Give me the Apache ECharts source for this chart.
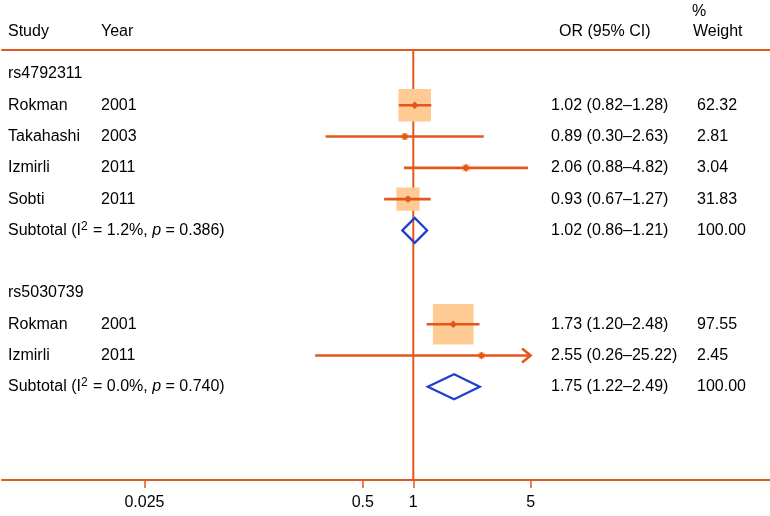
<!DOCTYPE html>
<html><head><meta charset="utf-8">
<script src="https://cdn.jsdelivr.net/npm/echarts@6/dist/echarts.min.js"></script>
<style>html,body{margin:0;padding:0;background:#fff}#c{width:770px;height:516px}</style>
</head><body><div id="c"></div>
<script>
// ---- data ----
const studies = ['rs4792311','Rokman','Takahashi','Izmirli','Sobti','Subtotal','','rs5030739','Rokman','Izmirli','Subtotal'];
const years = ['','2001','2003','2011','2011','','','','2001','2011',''];
const rowKind = ['group','study','study','study','study','subtotal','blank','group','study','study','subtotal'];
const i2Values = [null,null,null,null,null,'1.2%',null,null,null,null,'0.0%'];
const pValues = [null,null,null,null,null,'0.386',null,null,null,null,'0.740'];
const orValues = [null,1.02,0.89,2.06,0.93,1.02,null,null,1.73,2.55,1.75];
const ciLower = [null,0.82,0.30,0.88,0.67,0.86,null,null,1.20,0.26,1.22];
const ciUpper = [null,1.28,2.63,4.82,1.27,1.21,null,null,2.48,25.22,2.49];
const weights = [null,62.32,2.81,3.04,31.83,100.00,null,null,97.55,2.45,100.00];
const tickValues = [0.025,0.5,1,5];
const headers = ['Study','Year','OR (95% CI)','%','Weight'];

// ---- styling ----
const ORANGE = '#E2571C';
const PEACH = '#FECB94';
const BLUE = '#1E3FCC';
const FONT = '"Liberation Sans", Arial, Helvetica, sans-serif';
const FS = 16;
const clipMax = 5;
const colX = {study: 8, year: 101, ci: 551, weight: 697};

const chart = echarts.init(document.getElementById('c'), null, {renderer: 'canvas'});

function txt(x, y, s) {
  return {type: 'text', style: {x: x, y: y, text: s, fill: '#000', fontSize: FS, fontFamily: FONT,
    verticalAlign: 'middle', align: 'left'}};
}

function renderRow(params, api) {
  const i = params.dataIndex;
  const kind = rowKind[i];
  const y = api.coord([1, i])[1];
  const children = [];
  if (kind === 'blank') return {type: 'group', children: []};
  if (kind === 'subtotal') {
    children.push({type: 'text', style: {
      x: colX.study, y: y, verticalAlign: 'middle', align: 'left',
      text: '{n|Subtotal (I}{s|2}{n| = ' + i2Values[i] + ', }{i|p}{n| = ' + pValues[i] + ')}',
      rich: {
        n: {fontSize: FS, fontFamily: FONT, fill: '#000', lineHeight: 20},
        s: {fontSize: 12, fontFamily: FONT, fill: '#000', verticalAlign: 'top', lineHeight: 20, padding: [0, 1, 7, 0]},
        i: {fontSize: FS, fontFamily: FONT, fill: '#000', fontStyle: 'italic', lineHeight: 20}
      }
    }});
  } else {
    children.push(txt(colX.study, y, studies[i]));
    if (years[i]) children.push(txt(colX.year, y, years[i]));
  }
  if (kind === 'group') return {type: 'group', children: children};

  const orv = orValues[i], lo = ciLower[i], hi = ciUpper[i];
  const xOr = api.coord([orv, i])[0];
  const xLo = api.coord([lo, i])[0];
  const xHi = api.coord([Math.min(hi, clipMax), i])[0];
  children.push(txt(colX.ci, y, orv.toFixed(2) + ' (' + lo.toFixed(2) + '\u2013' + hi.toFixed(2) + ')'));
  children.push(txt(colX.weight, y, weights[i].toFixed(2)));

  if (kind === 'study') {
    const side = 4.12 * Math.sqrt(weights[i]);
    children.push({type: 'rect', shape: {x: xOr - side / 2, y: y - side / 2, width: side, height: side},
      style: {fill: PEACH}});
    children.push({type: 'line', shape: {x1: xLo, y1: y, x2: xHi, y2: y},
      style: {stroke: ORANGE, lineWidth: 2.6}});
    if (hi > clipMax) {
      children.push({type: 'polyline', shape: {points: [[xHi - 8.5, y - 7], [xHi, y], [xHi - 8.5, y + 7]]},
        style: {stroke: ORANGE, lineWidth: 2.6, fill: null}});
    }
    const d = 3.8;
    children.push({type: 'polygon', shape: {points: [[xOr - d, y], [xOr, y - d], [xOr + d, y], [xOr, y + d]]},
      style: {fill: ORANGE}});
  } else {
    const h = 12.5;
    children.push({type: 'polygon', shape: {points: [[xLo, y], [xOr, y - h], [xHi, y], [xOr, y + h]]},
      style: {fill: 'rgba(255,255,255,0)', stroke: BLUE, lineWidth: 2.2}});
  }
  return {type: 'group', children: children};
}

const rowData = studies.map((s, i) => [orValues[i] || 1, i]);
const yMin = -0.7673, yMax = 12.98;
const xMin = 0.003539, xMax = 133.6;

function headerText(x, y, s) {
  return {type: 'text', x: x, y: y, style: {text: s, fill: '#000', fontSize: FS, fontFamily: FONT,
    verticalAlign: 'middle', align: 'left'}};
}

const option = {
  animation: false,
  backgroundColor: '#fff',
  grid: {left: 2, right: 0, top: 50, bottom: 36, containLabel: false},
  xAxis: [{
    type: 'log', min: xMin, max: xMax, position: 'bottom',
    axisLine: {show: true, onZero: false, lineStyle: {color: ORANGE, width: 2}},
    axisTick: {show: true, customValues: tickValues, length: 8, lineStyle: {color: ORANGE, width: 1.5}},
    axisLabel: {show: true, customValues: tickValues, color: '#000', fontSize: FS, fontFamily: FONT, margin: 15,
      formatter: v => String(v)},
    splitLine: {show: false}, minorTick: {show: false}
  }, {
    type: 'log', min: xMin, max: xMax, position: 'top',
    axisLine: {show: true, onZero: false, lineStyle: {color: ORANGE, width: 2}},
    axisTick: {show: false}, axisLabel: {show: false}, splitLine: {show: false}
  }],
  yAxis: {type: 'value', min: yMin, max: yMax, inverse: true, show: false, splitLine: {show: false}},
  graphic: [
    headerText(8, 31.5, headers[0]),
    headerText(101, 31.5, headers[1]),
    headerText(559, 31.5, headers[2]),
    headerText(692, 12, headers[3]),
    headerText(693, 31.5, headers[4])
  ],
  series: [{
    type: 'line', xAxisIndex: 0, data: [[1, yMin], [1, yMax]], symbol: 'none',
    lineStyle: {color: ORANGE, width: 2}, silent: true, z: 1
  }, {
    type: 'custom', xAxisIndex: 0, renderItem: renderRow, data: rowData, clip: false, z: 2,
    encode: {x: 0, y: 1}
  }]
};
chart.setOption(option);
</script>
</body></html>
